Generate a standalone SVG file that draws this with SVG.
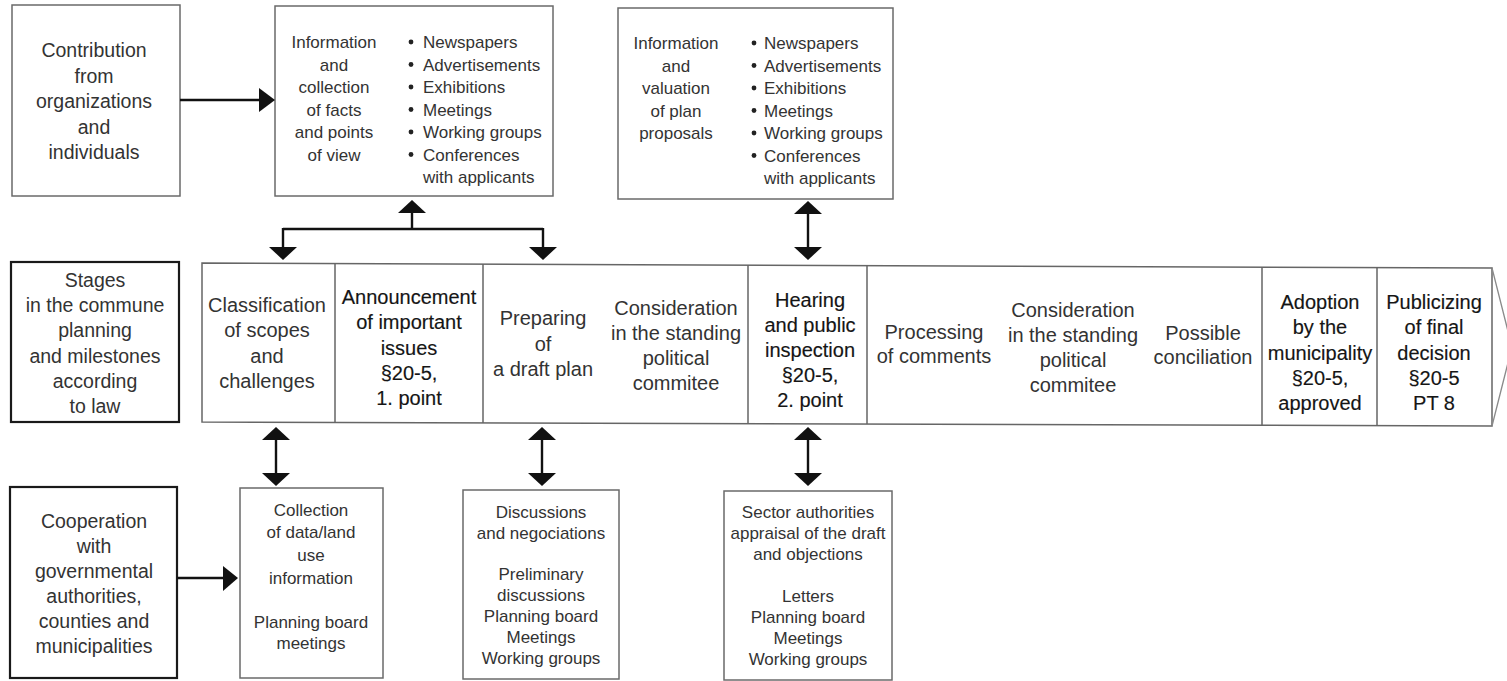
<svg xmlns="http://www.w3.org/2000/svg" width="1507" height="681" viewBox="0 0 1507 681">
  <style>
    text { font-family: "Liberation Sans", Arial, sans-serif; fill: #333; text-anchor: middle; }
    .lg { font-size: 19.5px; }
    .st { font-size: 20px; }
    .ms { font-size: 20px; fill: #151515; stroke: #151515; stroke-width: 0.15px; }
    .sm { font-size: 17px; }
    .bl { text-anchor: start; }
    .box { fill: #fff; stroke: #6a6a6a; stroke-width: 1.5; }
    .key { fill: #fff; stroke: #1a1a1a; stroke-width: 2.2; }
    .band { fill: none; stroke: #666; stroke-width: 1.5; }
    .wire { fill: none; stroke: #111; stroke-width: 2.4; }
    .head { fill: #111; stroke: none; }
    .dot { fill: #222; }
  </style>
  <rect width="1507" height="681" fill="#fff"/>

  <!-- Contribution from organizations and individuals -->
  <g id="contribution">
    <rect class="box" x="12" y="5" width="168" height="191"/>
    <text class="lg" x="94" y="57">Contribution</text>
    <text class="lg" x="94" y="82.5">from</text>
    <text class="lg" x="94" y="108">organizations</text>
    <text class="lg" x="94" y="133.5">and</text>
    <text class="lg" x="94" y="159">individuals</text>
  </g>

  <!-- Information and collection of facts -->
  <g id="info-facts">
    <rect class="box" x="275" y="6" width="278" height="190"/>
    <text class="sm" x="334" y="48">Information</text>
    <text class="sm" x="334" y="70.5">and</text>
    <text class="sm" x="334" y="93">collection</text>
    <text class="sm" x="334" y="115.5">of facts</text>
    <text class="sm" x="334" y="138">and points</text>
    <text class="sm" x="334" y="160.5">of view</text>
    <circle class="dot" cx="411" cy="42" r="2.4"/>
    <circle class="dot" cx="411" cy="64.5" r="2.4"/>
    <circle class="dot" cx="411" cy="87" r="2.4"/>
    <circle class="dot" cx="411" cy="109.5" r="2.4"/>
    <circle class="dot" cx="411" cy="132" r="2.4"/>
    <circle class="dot" cx="411" cy="154.5" r="2.4"/>
    <text class="sm bl" x="423" y="48">Newspapers</text>
    <text class="sm bl" x="423" y="70.5">Advertisements</text>
    <text class="sm bl" x="423" y="93">Exhibitions</text>
    <text class="sm bl" x="423" y="115.5">Meetings</text>
    <text class="sm bl" x="423" y="138">Working groups</text>
    <text class="sm bl" x="423" y="160.5">Conferences</text>
    <text class="sm bl" x="423" y="183">with applicants</text>
  </g>

  <!-- Information and valuation of plan proposals -->
  <g id="info-valuation">
    <rect class="box" x="618" y="8" width="275" height="191"/>
    <text class="sm" x="676" y="49">Information</text>
    <text class="sm" x="676" y="71.5">and</text>
    <text class="sm" x="676" y="94">valuation</text>
    <text class="sm" x="676" y="116.5">of plan</text>
    <text class="sm" x="676" y="139">proposals</text>
    <circle class="dot" cx="754" cy="43" r="2.4"/>
    <circle class="dot" cx="754" cy="65.5" r="2.4"/>
    <circle class="dot" cx="754" cy="88" r="2.4"/>
    <circle class="dot" cx="754" cy="110.5" r="2.4"/>
    <circle class="dot" cx="754" cy="133" r="2.4"/>
    <circle class="dot" cx="754" cy="155.5" r="2.4"/>
    <text class="sm bl" x="764" y="49">Newspapers</text>
    <text class="sm bl" x="764" y="71.5">Advertisements</text>
    <text class="sm bl" x="764" y="94">Exhibitions</text>
    <text class="sm bl" x="764" y="116.5">Meetings</text>
    <text class="sm bl" x="764" y="139">Working groups</text>
    <text class="sm bl" x="764" y="161.5">Conferences</text>
    <text class="sm bl" x="764" y="184">with applicants</text>
  </g>

  <!-- Stages label -->
  <g id="stages">
    <rect class="key" x="11" y="262" width="168" height="160"/>
    <text class="lg" x="95" y="287">Stages</text>
    <text class="lg" x="95" y="312">in the commune</text>
    <text class="lg" x="95" y="337">planning</text>
    <text class="lg" x="95" y="363">and milestones</text>
    <text class="lg" x="95" y="388">according</text>
    <text class="lg" x="95" y="413">to law</text>
  </g>

  <!-- Stage band with its cells -->
  <g id="stage-band">
    <path class="band" d="M202,263 L1492,268 L1492,426 L202,422 Z"/>
    <path d="M1492,268 L1512,347 L1492,426" fill="none" stroke="#8a8a8a" stroke-width="1.3"/>
    <path class="band" d="M335,263.5 V422.4 M483,264.1 V422.9 M748,265.1 V423.7 M867,265.6 V424.1 M1262,267.1 V425.3 M1377,267.6 V425.6"/>
  </g>

  <g id="stage-classification">
    <text class="st" x="267" y="312">Classification</text>
    <text class="st" x="267" y="337">of scopes</text>
    <text class="st" x="267" y="363">and</text>
    <text class="st" x="267" y="388">challenges</text>
  </g>
  <g id="stage-announcement">
    <text class="ms" x="409" y="304">Announcement</text>
    <text class="ms" x="409" y="329">of important</text>
    <text class="ms" x="409" y="355">issues</text>
    <text class="ms" x="409" y="380">§20-5,</text>
    <text class="ms" x="409" y="405">1. point</text>
  </g>
  <g id="stage-draft">
    <text class="st" x="543" y="325">Preparing</text>
    <text class="st" x="543" y="351">of</text>
    <text class="st" x="543" y="376">a draft plan</text>
  </g>
  <g id="stage-consideration-1">
    <text class="st" x="676" y="315">Consideration</text>
    <text class="st" x="676" y="340">in the standing</text>
    <text class="st" x="676" y="365">political</text>
    <text class="st" x="676" y="390">commitee</text>
  </g>
  <g id="stage-hearing">
    <text class="ms" x="810" y="307">Hearing</text>
    <text class="ms" x="810" y="332">and public</text>
    <text class="ms" x="810" y="357">inspection</text>
    <text class="ms" x="810" y="382">§20-5,</text>
    <text class="ms" x="810" y="407">2. point</text>
  </g>
  <g id="stage-processing">
    <text class="st" x="934" y="339">Processing</text>
    <text class="st" x="934" y="363">of comments</text>
  </g>
  <g id="stage-consideration-2">
    <text class="st" x="1073" y="317">Consideration</text>
    <text class="st" x="1073" y="342">in the standing</text>
    <text class="st" x="1073" y="367">political</text>
    <text class="st" x="1073" y="392">commitee</text>
  </g>
  <g id="stage-conciliation">
    <text class="st" x="1203" y="340">Possible</text>
    <text class="st" x="1203" y="364">conciliation</text>
  </g>
  <g id="stage-adoption">
    <text class="ms" x="1320" y="309">Adoption</text>
    <text class="ms" x="1320" y="334">by the</text>
    <text class="ms" x="1320" y="360">municipality</text>
    <text class="ms" x="1320" y="385">§20-5,</text>
    <text class="ms" x="1320" y="410">approved</text>
  </g>
  <g id="stage-publicizing">
    <text class="ms" x="1434" y="309">Publicizing</text>
    <text class="ms" x="1434" y="334">of final</text>
    <text class="ms" x="1434" y="360">decision</text>
    <text class="ms" x="1434" y="385">§20-5</text>
    <text class="ms" x="1434" y="410">PT 8</text>
  </g>

  <!-- Cooperation with authorities -->
  <g id="cooperation">
    <rect class="key" x="10" y="487" width="167" height="191"/>
    <text class="lg" x="94" y="528">Cooperation</text>
    <text class="lg" x="94" y="553">with</text>
    <text class="lg" x="94" y="578">governmental</text>
    <text class="lg" x="94" y="603">authorities,</text>
    <text class="lg" x="94" y="628">counties and</text>
    <text class="lg" x="94" y="653">municipalities</text>
  </g>

  <g id="collection">
    <rect class="box" x="240" y="488" width="143" height="190"/>
    <text class="sm" x="311" y="516">Collection</text>
    <text class="sm" x="311" y="538">of data/land</text>
    <text class="sm" x="311" y="561">use</text>
    <text class="sm" x="311" y="584">information</text>
    <text class="sm" x="311" y="628">Planning board</text>
    <text class="sm" x="311" y="649">meetings</text>
  </g>

  <g id="discussions">
    <rect class="box" x="463" y="490" width="156" height="189"/>
    <text class="sm" x="541" y="518">Discussions</text>
    <text class="sm" x="541" y="539">and negociations</text>
    <text class="sm" x="541" y="580">Preliminary</text>
    <text class="sm" x="541" y="601">discussions</text>
    <text class="sm" x="541" y="622">Planning board</text>
    <text class="sm" x="541" y="643">Meetings</text>
    <text class="sm" x="541" y="664">Working groups</text>
  </g>

  <g id="sector-authorities">
    <rect class="box" x="724" y="491" width="168" height="189"/>
    <text class="sm" x="808" y="518">Sector authorities</text>
    <text class="sm" x="808" y="539">appraisal of the draft</text>
    <text class="sm" x="808" y="560">and objections</text>
    <text class="sm" x="808" y="602">Letters</text>
    <text class="sm" x="808" y="623">Planning board</text>
    <text class="sm" x="808" y="644">Meetings</text>
    <text class="sm" x="808" y="665">Working groups</text>
  </g>

  <!-- Connectors -->
  <g id="connectors">
    <!-- contribution to information box -->
    <path class="wire" d="M180,100 H260"/>
    <polygon class="head" points="259,88 275,100 259,112"/>

    <!-- information box to classification and draft plan -->
    <path class="wire" d="M412,212 V229 M283,229 H543 M283,228 V248 M543,228 V248"/>
    <polygon class="head" points="398,213 412,200 426,213"/>
    <polygon class="head" points="269,247 297,247 283,260"/>
    <polygon class="head" points="529,247 557,247 543,260"/>

    <!-- valuation box to hearing -->
    <path class="wire" d="M808,212 V248"/>
    <polygon class="head" points="794,214 808,201 822,214"/>
    <polygon class="head" points="794,247 822,247 808,260"/>

    <!-- band to lower boxes -->
    <path class="wire" d="M276,439 V474"/>
    <polygon class="head" points="262,440 276,427 290,440"/>
    <polygon class="head" points="262,473 290,473 276,486"/>

    <path class="wire" d="M542,439 V474"/>
    <polygon class="head" points="528,440 542,427 556,440"/>
    <polygon class="head" points="528,473 556,473 542,486"/>

    <path class="wire" d="M808,439 V474"/>
    <polygon class="head" points="794,440 808,427 822,440"/>
    <polygon class="head" points="794,473 822,473 808,486"/>

    <!-- cooperation to collection -->
    <path class="wire" d="M177,578 H224"/>
    <polygon class="head" points="223,566 238,578 223,591"/>
  </g>
</svg>
